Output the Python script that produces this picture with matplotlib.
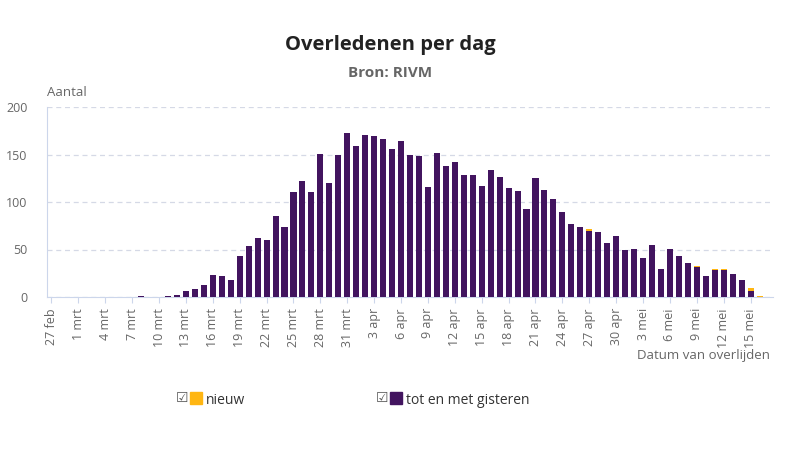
import numpy as np
import pandas as pd
import matplotlib
matplotlib.use('Agg')
import matplotlib.pyplot as plt
from matplotlib.patches import Rectangle

plt.rcParams['font.family'] = ['Open Sans', 'DejaVu Sans']

# Data: deaths per day by date of death (27 feb - 17 mei 2020)
dates = pd.date_range('2020-02-27', '2020-05-17', freq='D')
month_nl = {2: 'feb', 3: 'mrt', 4: 'apr', 5: 'mei'}

tot_gisteren = [
    0, 0, 0, 0, 0, 0, 0, 0, 0, 0,          # 27 feb - 7 mrt
    1, 0, 0, 1, 2, 6, 8, 13, 23, 22,       # 8 mrt - 17 mrt
    18, 43, 54, 62, 60, 85, 74, 111, 122, 111,   # 18 mrt - 27 mrt
    151, 120, 150, 173, 159, 171, 170, 166, 156, 164,   # 28 mrt - 6 apr
    149, 148, 116, 152, 138, 142, 128, 128, 117, 134,   # 7 apr - 16 apr
    126, 115, 112, 93, 125, 113, 103, 89, 77, 74,       # 17 apr - 26 apr
    70, 68, 57, 64, 50, 51, 41, 55, 30, 51,             # 27 apr - 6 mei
    43, 36, 32, 22, 28, 28, 24, 18, 6, 0,               # 7 mei - 16 mei
    0,                                                   # 17 mei
]
nieuw = [0] * len(tot_gisteren)
nieuw[60] = 2   # 27 apr
nieuw[72] = 1   # 9 mei
nieuw[74] = 1   # 11 mei
nieuw[75] = 1   # 12 mei
nieuw[78] = 4   # 15 mei
nieuw[79] = 1   # 16 mei

purple = '#42145f'
yellow = '#ffb612'
grid_col = '#d5d9e6'
axis_col = '#ccd6eb'
label_col = '#666666'

fig = plt.figure(figsize=(8, 4.5), dpi=100)
ax = fig.add_axes([47 / 800, 1 - 297 / 450, 726 / 800, 190 / 450])

x = np.arange(len(dates))
ax.bar(x, tot_gisteren, width=0.68, color=purple, zorder=3)
ax.bar(x, nieuw, bottom=tot_gisteren, width=0.68, color=yellow, zorder=3)

ax.set_xlim(-0.5, len(dates) - 0.5)
ax.set_ylim(0, 200)
ax.set_yticks([0, 50, 100, 150, 200])
ax.yaxis.grid(True, color=grid_col, linestyle=(0, (4, 3)), linewidth=0.9, zorder=0)
ax.tick_params(axis='y', length=0, labelsize=9, colors=label_col, pad=14)

tick_idx = x[::3]
ax.set_xticks(tick_idx)
ax.set_xticklabels([f'{dates[i].day} {month_nl[dates[i].month]}' for i in tick_idx],
                   rotation=90, fontsize=9, color=label_col)
ax.tick_params(axis='x', length=4, color=axis_col, pad=4)

for side in ['top', 'right']:
    ax.spines[side].set_visible(False)
ax.spines['bottom'].set_color(axis_col)
ax.spines['left'].set_color(axis_col)

fig.text(0.4875, 1 - 45 / 450, 'Overledenen per dag', ha='center', va='center',
         fontsize=14.5, fontweight='bold', color='#222222')
fig.text(0.4875, 1 - 73 / 450, 'Bron: RIVM', ha='center', va='center',
         fontsize=11, fontweight='bold', color=label_col)
fig.text(47 / 800, 1 - 93 / 450, 'Aantal', ha='left', va='center',
         fontsize=9.5, color=label_col)
fig.text(770 / 800, 1 - 355 / 450, 'Datum van overlijden', ha='right', va='center',
         fontsize=9.5, color=label_col)

# legend with checkboxes
for cx, col, txt in [(176, yellow, 'nieuw'), (376, purple, 'tot en met gisteren')]:
    fig.text(cx / 800, 1 - 398 / 450, '\u2611', ha='left', va='center',
             fontsize=10, color='#555555', family=['DejaVu Sans'])
    fig.patches.append(Rectangle(((cx + 14) / 800, 1 - 404 / 450),
                                 12 / 800, 12 / 450, transform=fig.transFigure,
                                 color=col, figure=fig))
    fig.text((cx + 30) / 800, 1 - 398 / 450, txt, ha='left', va='center_baseline',
             fontsize=10, color='#333333')

fig.savefig('out.png', dpi=100)
